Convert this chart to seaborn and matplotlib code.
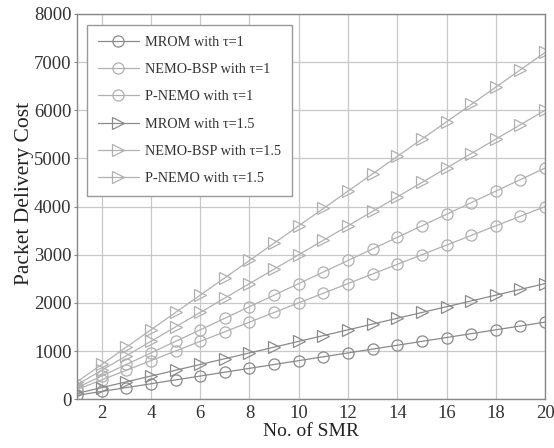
import matplotlib
matplotlib.use("Agg")
import matplotlib.pyplot as plt
import seaborn as sns

# Data
smr = list(range(1, 21))
mrom_t1 = [80, 160, 240, 320, 400, 480, 560, 640, 720, 800,
           880, 960, 1040, 1120, 1200, 1280, 1360, 1440, 1520, 1600]
nemo_bsp_t1 = [240, 480, 720, 960, 1200, 1440, 1680, 1920, 2160, 2400,
               2640, 2880, 3120, 3360, 3600, 3840, 4080, 4320, 4560, 4800]
p_nemo_t1 = [200, 400, 600, 800, 1000, 1200, 1400, 1600, 1800, 2000,
             2200, 2400, 2600, 2800, 3000, 3200, 3400, 3600, 3800, 4000]
mrom_t15 = [120, 240, 360, 480, 600, 720, 840, 960, 1080, 1200,
            1320, 1440, 1560, 1680, 1800, 1920, 2040, 2160, 2280, 2400]
nemo_bsp_t15 = [360, 720, 1080, 1440, 1800, 2160, 2520, 2880, 3240, 3600,
                3960, 4320, 4680, 5040, 5400, 5760, 6120, 6480, 6840, 7200]
p_nemo_t15 = [300, 600, 900, 1200, 1500, 1800, 2100, 2400, 2700, 3000,
              3300, 3600, 3900, 4200, 4500, 4800, 5100, 5400, 5700, 6000]

series = [
    ("MROM with \u03c4=1", mrom_t1, "o", "#8a8a8a"),
    ("NEMO-BSP with \u03c4=1", nemo_bsp_t1, "o", "#b0b0b0"),
    ("P-NEMO with \u03c4=1", p_nemo_t1, "o", "#b0b0b0"),
    ("MROM with \u03c4=1.5", mrom_t15, ">", "#8a8a8a"),
    ("NEMO-BSP with \u03c4=1.5", nemo_bsp_t15, ">", "#b0b0b0"),
    ("P-NEMO with \u03c4=1.5", p_nemo_t15, ">", "#b0b0b0"),
]

sns.set_theme(style="whitegrid")
plt.rcParams["font.family"] = ["Liberation Serif", "DejaVu Serif"]

fig = plt.figure(figsize=(5.54, 4.48), dpi=100)
ax = fig.add_axes([0.139, 0.109, 0.845, 0.860])

for label, vals, mk, col in series:
    sns.lineplot(x=smr, y=vals, ax=ax, label=label, color=col, linewidth=0.9,
                 marker=mk, markersize=8, markerfacecolor="none",
                 markeredgecolor=col, markeredgewidth=0.9)

ax.set_xlim(1, 20)
ax.set_ylim(0, 8000)
ax.set_xticks(range(2, 21, 2))
ax.set_yticks(range(0, 8001, 1000))
ax.tick_params(axis="both", labelsize=13.5, labelcolor="#333333", colors="#888888",
               length=2.5, width=0.8, pad=1.5)
ax.tick_params(axis="y", left=True)
ax.set_xlabel("No. of SMR", fontsize=14, color="#222222", labelpad=1)
ax.set_ylabel("Packet Delivery Cost", fontsize=15.5, color="#222222", labelpad=0)
ax.yaxis.label.set_y(0.534)
ax.grid(True, color="#c8c8c8", linewidth=0.9)
for sp in ax.spines.values():
    sp.set_color("#888888")
    sp.set_linewidth(1.0)

leg = ax.legend(loc="upper left", bbox_to_anchor=(0.021, 0.971), borderaxespad=0,
                fontsize=10.3, frameon=True, fancybox=False, framealpha=1,
                edgecolor="#999999", handlelength=2.9, labelspacing=1.0,
                borderpad=0.75, handletextpad=0.4)
for t in leg.get_texts():
    t.set_color("#333333")

fig.savefig("out.png", dpi=100)
